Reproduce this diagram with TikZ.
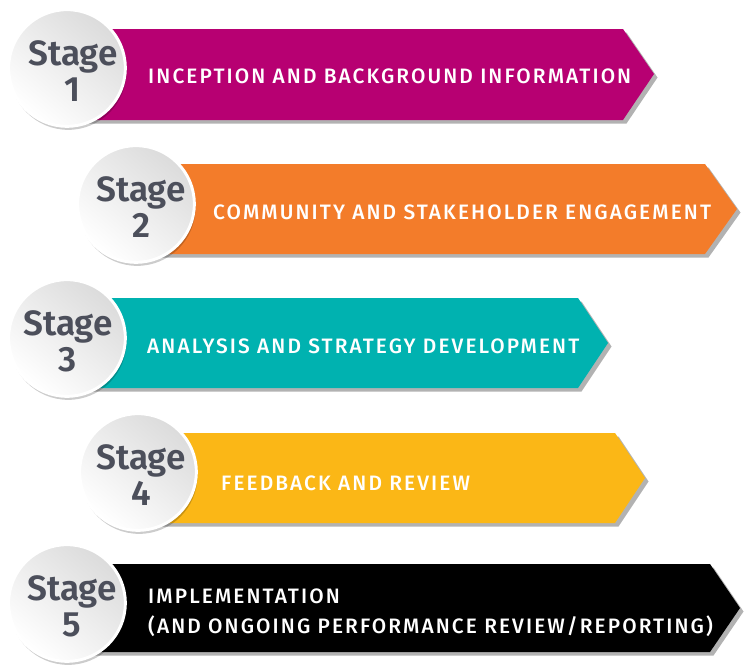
\documentclass[tikz,border=0pt]{standalone}
\usepackage{fontspec}
\setmainfont{Fira Sans}
\newfontfamily\bannerfont{Fira Sans Medium}[LetterSpace=10]
\newfontfamily\stagefont{Fira Sans SemiBold}
\usetikzlibrary{shadows}

\definecolor{inception}{RGB}{183,0,114}
\definecolor{community}{RGB}{243,124,42}
\definecolor{analysis}{RGB}{0,178,176}
\definecolor{feedback}{RGB}{251,183,22}
\definecolor{implement}{RGB}{0,0,0}
\definecolor{slate}{RGB}{76,79,91}

\begin{document}
\begin{tikzpicture}
   [
    x=0.03cm, y=-0.03cm,
    banner/.style={drop shadow={shadow xshift=3pt, shadow yshift=-3pt,
                   opacity=.3, fill=black}},
    stagecircle/.style={circle, minimum size=3.5cm, inner sep=0pt,
                   top color=gray!28, bottom color=white, shading angle=-40,
                   draw=white, line width=2.5pt,
                   drop shadow={shadow xshift=1pt, shadow yshift=-3pt,
                   opacity=.2, fill=black}},
    stagelabel/.style={text=slate, align=center, inner sep=0pt,
                   font=\stagefont\fontsize{30}{31}\selectfont},
    bannertext/.style={text=white, anchor=west, inner sep=0pt, align=left,
                   font=\bannerfont\fontsize{17.8}{25.6}\selectfont}
    ]

\useasboundingbox (0,0) rectangle (752,666);

% stage 1
\path[banner, fill=inception]
    (67,29) -- (623,29) -- (654,74) -- (623,120) -- (67,120) -- cycle;
\node[stagecircle] (c1) at (67,68) {};
\node[stagelabel] (l1) at (73,71) {Stage\\1};
\node[bannertext] (t1) at (148,76) {INCEPTION AND BACKGROUND INFORMATION};

% stage 2
\path[banner, fill=community]
    (138,164) -- (705,164) -- (737,209) -- (705,254) -- (138,254) -- cycle;
\node[stagecircle] (c2) at (136,204) {};
\node[stagelabel] (l2) at (141,207) {Stage\\2};
\node[bannertext] (t2) at (213,212) {COMMUNITY AND STAKEHOLDER ENGAGEMENT};

% stage 3
\path[banner, fill=analysis]
    (67,298) -- (578,298) -- (608,343) -- (578,388) -- (67,388) -- cycle;
\node[stagecircle] (c3) at (67,338) {};
\node[stagelabel] (l3) at (68,341) {Stage\\3};
\node[bannertext] (t3) at (147,346) {ANALYSIS AND STRATEGY DEVELOPMENT};

% stage 4
\path[banner, fill=feedback]
    (138,433) -- (615,433) -- (645,478) -- (615,523) -- (138,523) -- cycle;
\node[stagecircle] (c4) at (138,472) {};
\node[stagelabel] (l4) at (141,475) {Stage\\4};
\node[bannertext] (t4) at (221,483) {FEEDBACK AND REVIEW};

% stage 5
\path[banner, fill=implement]
    (67,564) -- (710,564) -- (740,608) -- (710,652) -- (67,652) -- cycle;
\node[stagecircle] (c5) at (67,603) {};
\node[stagelabel] (l5) at (72,606) {Stage\\5};
\node[bannertext] (t5) at (148,613)
    {IMPLEMENTATION\\(AND ONGOING PERFORMANCE REVIEW/REPORTING)};

\end{tikzpicture}
\end{document}
